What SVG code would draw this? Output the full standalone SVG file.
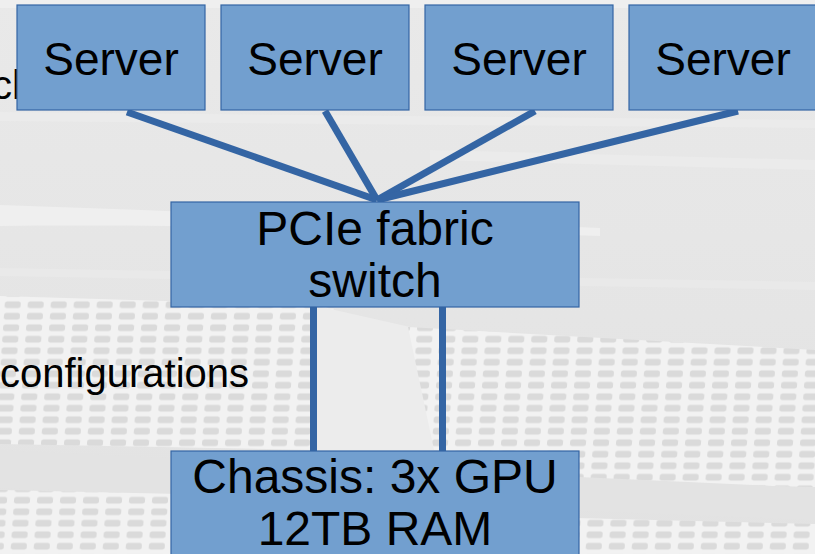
<svg xmlns="http://www.w3.org/2000/svg" width="815" height="554" viewBox="0 0 815 554">
  <style>
    .box { fill: #729fcf; stroke: #3465a4; stroke-width: 1.2; }
    .lbl { font-family: "Liberation Sans", Arial, sans-serif; font-size: 46px; fill: #000; text-anchor: middle; }
    .big { font-size: 48px; }
    .bg-text { font-family: "Liberation Sans", Arial, sans-serif; font-size: 40px; fill: #000; }
    .link { stroke: #3465a4; stroke-width: 7; fill: none; stroke-linecap: butt; }
  </style>
  <defs>
    <pattern id="vent" width="23" height="11.5" patternUnits="userSpaceOnUse" patternTransform="skewX(-4)">
      <rect width="23" height="11.5" fill="#f2f2f2"/>
      <rect x="3" y="2.5" width="16" height="6.5" rx="2.5" fill="#dadada"/>
    </pattern>
    <linearGradient id="topfade" x1="0" y1="0" x2="0" y2="1">
      <stop offset="0" stop-color="#e9e9e9"/>
      <stop offset="1" stop-color="#e2e2e2"/>
    </linearGradient>
  </defs>

  <!-- background (faded server rack) -->
  <g id="background">
    <rect width="815" height="554" fill="url(#topfade)"/>
    <path d="M0 0 H815 V8 H0 Z" fill="#efefef"/>
    <path d="M0 112 L815 120 L815 128 L0 121 Z" fill="#ebebeb"/>
    <path d="M0 205 C200 212 400 220 600 228 L600 236 C400 230 200 224 0 226 Z" fill="#efefef"/>
    <path d="M430 150 L815 160 L815 170 L430 160 Z" fill="#ebebeb"/>
    <path d="M0 268 L815 282 L815 290 L0 276 Z" fill="#e9e9e9"/>
    <polygon points="0,296 334,306 316,450 0,444" fill="url(#vent)"/>
    <polygon points="317,306 410,327 440,452 317,452" fill="#ececec"/>
    <polygon points="408,327 815,350 815,487 440,478" fill="url(#vent)"/>
    <polygon points="0,450 815,488 815,520 0,488" fill="#e3e3e3"/>
    <polygon points="0,490 180,494 180,554 0,554" fill="url(#vent)"/>
    <polygon points="575,518 815,524 815,554 575,554" fill="url(#vent)"/>
  </g>

  <!-- partially hidden background texts -->
  <g id="background-text">
    <text class="bg-text" x="-8" y="99">cl</text>
    <text class="bg-text" x="0" y="387">configurations</text>
  </g>

  <!-- connectors -->
  <g id="connectors">
    <line class="link" x1="127" y1="112" x2="377" y2="200"/>
    <line class="link" x1="325" y1="111" x2="377" y2="200"/>
    <line class="link" x1="535" y1="111" x2="377" y2="200"/>
    <line class="link" x1="738" y1="111" x2="377" y2="200"/>
    <line class="link" x1="313.5" y1="307" x2="313.5" y2="452"/>
    <line class="link" x1="442.5" y1="307" x2="442.5" y2="452"/>
  </g>

  <g id="server1">
    <rect class="box" x="17" y="5" width="188" height="105"/>
    <text class="lbl" x="111" y="75">Server</text>
  </g>
  <g id="server2">
    <rect class="box" x="221" y="5" width="188" height="105"/>
    <text class="lbl" x="315" y="75">Server</text>
  </g>
  <g id="server3">
    <rect class="box" x="425" y="5" width="188" height="105"/>
    <text class="lbl" x="519" y="75">Server</text>
  </g>
  <g id="server4">
    <rect class="box" x="629" y="5" width="188" height="105"/>
    <text class="lbl" x="723" y="75">Server</text>
  </g>

  <g id="pcie-switch">
    <rect class="box" x="171" y="202" width="408" height="105"/>
    <text class="lbl big" x="375" y="245">PCIe fabric</text>
    <text class="lbl big" x="375" y="297">switch</text>
  </g>

  <g id="chassis">
    <rect class="box" x="171" y="451" width="408" height="110"/>
    <text class="lbl big" x="375" y="493">Chassis: 3x GPU</text>
    <text class="lbl big" x="375" y="545">12TB RAM</text>
  </g>
</svg>
